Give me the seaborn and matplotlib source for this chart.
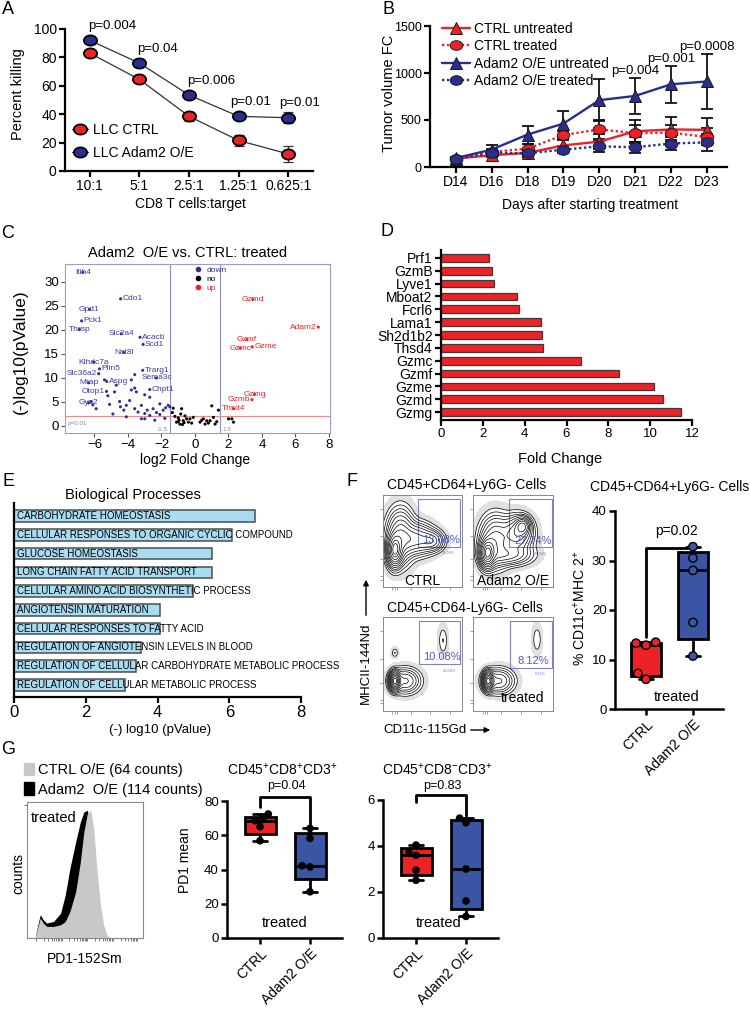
import numpy as np
import pandas as pd
import matplotlib
matplotlib.use('Agg')
import matplotlib.pyplot as plt
import seaborn as sns
from matplotlib.path import Path
from matplotlib.transforms import Affine2D
from matplotlib.patches import Rectangle, Patch, FancyArrowPatch

# ---------------- data ----------------
# A: killing assay
ratios = ['10:1', '5:1', '2.5:1', '1.25:1', '0.625:1']
kill_ctrl = [83, 64.5, 38.5, 21.5, 12]
kill_ctrl_err = [1.5, 1.5, 3, 4, 5.5]
kill_adam2 = [92, 76, 53.5, 38.5, 37.5]
kill_adam2_err = [1.5, 3, 1.5, 1.5, 4]
kill_p = ['p=0.004', 'p=0.04', 'p=0.006', 'p=0.01', 'p=0.01']

# B: tumour growth
days = ['D14', 'D16', 'D18', 'D19', 'D20', 'D21', 'D22', 'D23']
ctrl_untr = [90, 125, 150, 230, 270, 380, 400, 395]
ctrl_untr_err = [8, 20, 35, 55, 80, 120, 135, 125]
ctrl_tr = [88, 160, 195, 340, 400, 360, 365, 320]
ctrl_tr_err = [8, 35, 50, 45, 105, 90, 80, 90]
adam_untr = [95, 185, 345, 462, 711, 756, 880, 910]
adam_untr_err = [10, 46, 95, 135, 225, 195, 195, 290]
adam_tr = [85, 150, 145, 185, 220, 210, 250, 262]
adam_tr_err = [8, 30, 35, 40, 60, 60, 70, 90]
growth_p = {'D21': 'p=0.004', 'D22': 'p=0.001', 'D23': 'p=0.0008'}

# C: volcano
down_genes = ['Itih4', 'Cdo1', 'Gpd1', 'Pck1', 'Thrsp', 'Slc2a4', 'Acacb', 'Scd1', 'Nat8l', 'Klhdc7a',
              'Plin5', 'Trarg1', 'Slc36a2', 'Mrap', 'Aspg', 'Sema3c', 'Otop1', 'Chpt1', 'Gys2']
down_genes_lfc = [-6.7, -4.44, -6.3, -6.77, -6.9, -4.4, -3.28, -3.1, -4.25, -6.05,
                  -5.7, -3.12, -5.75, -6.35, -5.27, -2.3, -5.28, -2.7, -6.35]
down_genes_logp = [32.0, 26.5, 24.3, 21.9, 20.1, 19.2, 18.5, 17.0, 15.3, 13.3,
                   11.9, 11.6, 10.9, 9.0, 9.3, 10.0, 7.2, 7.6, 4.8]
up_genes = ['Gzmd', 'Adam2', 'Gzmf', 'Gzmc', 'Gzme', 'Gzmg', 'Gzmb', 'Thsd4']
up_genes_lfc = [3.45, 7.36, 3.1, 2.7, 3.42, 3.55, 3.4, 2.3]
up_genes_logp = [26.4, 20.6, 18.0, 16.2, 16.5, 6.6, 5.5, 3.6]
down_lfc = [-6.1, -5.9, -6.2, -5.4, -4.8, -4.7, -5.1, -4.5, -4.45, -4.25,
            -4.1, -3.9, -3.8, -3.6, -3.5, -3.6, -3.4, -3.2, -3.0, -2.85,
            -2.7, -2.5, -2.3, -2.1, -1.9, -1.75, -1.6, -1.5, -2.1, -2.7,
            -3.0, -3.8, -3.6, -3.2, -3.0, -4.1, -5.2, -4.9, -2.4, -1.8]
down_logp = [4.4, 3.6, 5.1, 9.6, 7.1, 8.5, 4.5, 5.1, 4.0, 3.3,
             4.3, 5.3, 7.5, 7.9, 7.1, 3.6, 2.9, 4.3, 2.6, 3.3,
             2.2, 3.6, 2.8, 2.4, 3.3, 3.8, 4.3, 4.0, 4.6, 6.0,
             6.5, 9.6, 10.7, 1.5, 1.5, 1.9, 6.3, 2.5, 1.2, 1.6]
no_lfc = [-1.3, -1.2, -1.0, -0.85, -0.7, -0.6, -0.4, -0.2, -0.8,
          0.3, 0.5, 0.7, 0.9, 1.0, 1.1, 1.2, 1.4, 2.0, 2.3, 2.2,
          -0.3, -0.1, 0.6, -1.1, -0.9, -0.5, -1.35, -1.0, -0.75, 0.4, 0.8, -0.95, -0.65, 1.3]
no_logp = [3.7, 2.0, 1.7, 2.5, 1.1, 2.1, 0.8, 0.6, 3.6,
           0.8, 1.5, 1.1, 1.1, 4.2, 1.8, 0.4, 3.3, 1.5, 0.8, 1.5,
           1.5, 1.8, 0.4, 0.8, 0.4, 1.5, 2.8, 0.9, 0.3, 1.2, 0.6, 1.2, 0.7, 0.9]

# D: fold change
fc_genes = ['Prf1', 'GzmB', 'Lyve1', 'Mboat2', 'Fcrl6', 'Lama1', 'Sh2d1b2', 'Thsd4',
            'Gzmc', 'Gzmf', 'Gzme', 'Gzmd', 'Gzmg']
fold_change = [2.31, 2.42, 2.55, 3.62, 3.75, 4.77, 4.82, 4.90, 6.70, 8.53, 10.16, 10.61, 11.48]

# E: GO biological processes
go_terms = ['CARBOHYDRATE HOMEOSTASIS',
            'CELLULAR RESPONSES TO ORGANIC CYCLIC COMPOUND',
            'GLUCOSE HOMEOSTASIS',
            'LONG CHAIN FATTY ACID TRANSPORT',
            'CELLULAR AMINO ACID BIOSYNTHETIC PROCESS',
            'ANGIOTENSIN MATURATION',
            'CELLULAR RESPONSES TO FATTY ACID',
            'REGULATION OF ANGIOTENSIN LEVELS IN BLOOD',
            'REGULATION OF CELLULAR CARBOHYDRATE METABOLIC PROCESS',
            'REGULATION OF CELLULAR METABOLIC PROCESS']
go_logp = [6.72, 6.07, 5.53, 5.53, 5.0, 4.07, 4.07, 3.53, 3.41, 3.09]

# F: flow populations (centre x, centre y, spread x, spread y, weight) in gate coordinates
flow_ctrl_64pos = [(0.15, 0.40, 0.05, 0.09, 1.0), (0.22, 0.55, 0.09, 0.15, 1.2),
                   (0.42, 0.52, 0.12, 0.09, 0.8), (0.62, 0.50, 0.08, 0.06, 0.25)]
flow_adam2_64pos = [(0.18, 0.37, 0.05, 0.08, 1.0), (0.28, 0.50, 0.10, 0.14, 1.3),
                    (0.55, 0.58, 0.10, 0.10, 1.0), (0.62, 0.66, 0.05, 0.05, 0.35),
                    (0.45, 0.35, 0.15, 0.06, 0.5)]
flow_ctrl_64neg = [(0.15, 0.32, 0.035, 0.05, 1.0), (0.28, 0.32, 0.10, 0.07, 0.8),
                   (0.15, 0.62, 0.025, 0.03, 0.012), (0.76, 0.75, 0.035, 0.09, 0.05)]
flow_adam2_64neg = [(0.19, 0.32, 0.035, 0.05, 1.0), (0.32, 0.32, 0.10, 0.07, 0.8),
                    (0.80, 0.76, 0.035, 0.09, 0.045)]
flow_pct = ['13.08%', '27.74%', '10.08%', '8.12%']
cd11c_ctrl = [6.0, 7.2, 12.9, 13.3, 13.5]
cd11c_adam2 = [10.7, 17.5, 28.0, 30.5, 32.8]

# G: PD1 histograms and box plots
pd1_channel = [7, 9, 11.5, 14, 17, 23, 29, 33, 37, 42, 46, 49, 52, 55, 57.5, 60, 63, 66, 69, 72]
pd1_counts_ctrl = [0, 30, 60, 45, 35, 35, 40, 50, 80, 140, 230, 320, 375, 385, 330, 220, 110, 40, 8, 0]
pd1_counts_adam2 = [0, 35, 70, 55, 45, 50, 75, 130, 210, 290, 350, 380, 385, 340, 250, 150, 70, 20, 3, 0]
pd1_cd8pos_ctrl = [56.8, 65, 68.5, 69.2, 72.4]
pd1_cd8pos_adam2 = [27, 41.5, 42.2, 58.2, 64]
pd1_cd8neg_ctrl = [2.51, 2.95, 3.6, 3.75, 4.04]
pd1_cd8neg_adam2 = [0.94, 1.61, 3.0, 5.01, 5.21]
groups = ['CTRL', 'Adam2 O/E']

# ---------------- style ----------------
sns.set_style('ticks')
plt.rcParams['font.family'] = ['Liberation Sans', 'DejaVu Sans']
plt.rcParams.update({'mathtext.fontset': 'custom', 'mathtext.rm': 'Liberation Sans',
                     'mathtext.default': 'regular', 'text.color': 'black',
                     'axes.edgecolor': 'black', 'xtick.color': 'black', 'ytick.color': 'black',
                     'axes.labelcolor': 'black'})

RED = '#ec2227'
NAVY = '#2a2f8f'
BOXBLUE = '#3a55a4'
LIGHTBLUE = '#a8dcf2'
GATE = '#7d82c8'
OVAL = Path.unit_circle().transformed(Affine2D().scale(1.3, 1.0))

W, H = 750, 1009
fig = plt.figure(figsize=(7.5, 10.09), dpi=100)


def box(l, t, r, b):
    return fig.add_axes([l / W, 1 - b / H, (r - l) / W, (b - t) / H])


def txt(x, y, s, size=10, **kw):
    kw.setdefault('ha', 'center')
    kw.setdefault('va', 'center')
    fig.text(x / W, 1 - y / H, s, fontsize=size, **kw)


def prism(ax, lw=1.6, size=10):
    sns.despine(ax=ax)
    for s in ['left', 'bottom']:
        ax.spines[s].set_linewidth(lw)
    ax.tick_params(width=lw, length=4, labelsize=size, pad=2)


def prism_box(ax, data, box_colors, pt_colors, pt_size):
    stats = []
    for v in data:
        q1, med, q3 = np.percentile(v, [25, 50, 75], method='weibull')
        stats.append({'med': med, 'q1': q1, 'q3': q3, 'whislo': min(v), 'whishi': max(v), 'fliers': []})
    df = pd.DataFrame({'grp': np.repeat(groups, [len(v) for v in data]), 'val': np.concatenate(data)})
    sns.swarmplot(data=df, x='grp', y='val', hue='grp', palette=dict(zip(groups, pt_colors)),
                  size=pt_size, edgecolor='black', linewidth=1, legend=False, ax=ax, zorder=5)
    bp = ax.bxp(stats, positions=[0, 1], widths=0.62, patch_artist=True, showfliers=False,
                capwidths=0.28, manage_ticks=False,
                boxprops=dict(lw=2, edgecolor='black'), whiskerprops=dict(lw=2, color='black'),
                capprops=dict(lw=2, color='black'), medianprops=dict(lw=2, color='black'))
    for patch, c in zip(bp['boxes'], box_colors):
        patch.set_facecolor(c)
    prism(ax, lw=1.8, size=9.5)
    ax.set_xlim(-0.66, 1.64)
    ax.set_xticks([0, 1])
    ax.set_xticklabels(groups, rotation=45, ha='right', rotation_mode='anchor', fontsize=10)
    ax.set_xlabel('')
    ax.set_ylabel('')


def bracket(ax, y_top, y_left, y_right):
    ax.plot([0, 0, 1, 1], [y_left, y_top, y_top, y_right], color='black', lw=2, clip_on=False)


# ---------------- A ----------------
ax = box(65, 29, 313, 171)
pos = np.arange(len(ratios))
for vals, errs, col, name in [(kill_ctrl, kill_ctrl_err, RED, 'LLC CTRL'),
                              (kill_adam2, kill_adam2_err, NAVY, 'LLC Adam2 O/E')]:
    ax.errorbar(pos, vals, yerr=errs, fmt='none', ecolor='#333333', elinewidth=0.9,
                capsize=3.5, capthick=0.9, zorder=1)
    sns.lineplot(x=pos, y=vals, ax=ax, color='#333333', lw=0.9, marker=OVAL, markersize=9.5,
                 markerfacecolor=col, markeredgecolor='black', markeredgewidth=1.3,
                 label=name, errorbar=None)
for i, s in enumerate(kill_p):
    ax.text(i - (0.04 if i < 3 else 0.18), kill_adam2[i] + 6, s, fontsize=9.5, ha='left', va='bottom')
ax.set_xlim(-0.5, 4.5)
ax.set_ylim(0, 100)
ax.set_xticks(pos)
ax.set_xticklabels(ratios)
ax.set_yticks(range(0, 101, 20))
prism(ax)
ax.legend(loc='lower left', bbox_to_anchor=(0.03, 0.08), frameon=False, fontsize=10,
          handlelength=1.1, handletextpad=0.35, labelspacing=0.6, borderpad=0, borderaxespad=0)
txt(18, 94, 'Percent killing', 10.5, rotation=90)
txt(190, 204, 'CD8 T cells:target', 10)

# ---------------- B ----------------
ax = box(430, 26, 727, 167)
series_b = {'CTRL untreated': (ctrl_untr, ctrl_untr_err),
            'CTRL treated': (ctrl_tr, ctrl_tr_err),
            'Adam2 O/E untreated': (adam_untr, adam_untr_err),
            'Adam2 O/E treated': (adam_tr, adam_tr_err)}
rows = []
for name, (v, e) in series_b.items():
    for i in range(len(days)):
        rows.append((name, i, v[i], e[i]))
df_b = pd.DataFrame(rows, columns=['series', 'day', 'vol', 'err'])
pal_b = {'CTRL untreated': RED, 'CTRL treated': RED, 'Adam2 O/E untreated': NAVY, 'Adam2 O/E treated': NAVY}
mk_b = {'CTRL untreated': '^', 'CTRL treated': OVAL, 'Adam2 O/E untreated': '^', 'Adam2 O/E treated': OVAL}
ds_b = {'CTRL untreated': '', 'CTRL treated': (1, 1.1), 'Adam2 O/E untreated': '', 'Adam2 O/E treated': (1, 1.1)}
for name, (v, e) in series_b.items():
    ax.errorbar(range(len(days)), v, yerr=e, fmt='none', ecolor='#111111', elinewidth=1.3,
                capsize=4, capthick=1.3, zorder=1)
sns.lineplot(data=df_b, x='day', y='vol', hue='series', style='series', palette=pal_b,
             markers=mk_b, dashes=ds_b, markersize=9, linewidth=1.7, markeredgecolor='#1a1a1a',
             markeredgewidth=0.7, errorbar=None, ax=ax)
for d, s in growth_p.items():
    i = days.index(d)
    ax.text(i, adam_untr[i] + adam_untr_err[i] + 75, s, fontsize=9.5, ha='center', va='center')
ax.set_xlim(-0.72, 7.56)
ax.set_ylim(0, 1500)
ax.set_xticks(range(len(days)))
ax.set_xticklabels(days)
ax.set_yticks([0, 500, 1000, 1500])
ax.set_xlabel('')
ax.set_ylabel('')
prism(ax)
ax.tick_params(axis='y', labelsize=9)
h, l = ax.get_legend_handles_labels()
keep = [(hh, ll) for hh, ll in zip(h, l) if ll in series_b]
ax.legend([k[0] for k in keep], [k[1] for k in keep], loc='upper left', bbox_to_anchor=(0.04, 1.03),
          frameon=False, fontsize=10, handlelength=2.0, handletextpad=0.3, labelspacing=0.25,
          borderpad=0, borderaxespad=0)
txt(389, 93, 'Tumor volume FC', 10.5, rotation=90)
txt(590, 205, 'Days after starting treatment', 10)

# ---------------- C ----------------
ax = box(65, 264, 330, 433)
df_c = pd.DataFrame({
    'lfc': down_lfc + down_genes_lfc + no_lfc + up_genes_lfc,
    'logp': down_logp + down_genes_logp + no_logp + up_genes_logp,
    'reg': ['down'] * (len(down_lfc) + len(down_genes_lfc)) + ['no'] * len(no_lfc) + ['up'] * len(up_genes_lfc)})
pal_c = {'down': '#2e3192', 'no': 'black', 'up': RED}
sns.scatterplot(data=df_c, x='lfc', y='logp', hue='reg', hue_order=['down', 'no', 'up'],
                palette=pal_c, s=5, linewidth=0, ax=ax)
ax.axvline(-1.5, color='#8c8fd0', lw=0.8, zorder=0)
ax.axvline(1.5, color='#8c8fd0', lw=0.8, zorder=0)
ax.axhline(2, color='#f08a8a', lw=0.8, zorder=0)
align = {'Cdo1': 'r', 'Pck1': 'r', 'Acacb': 'r', 'Scd1': 'r', 'Plin5': 'r', 'Trarg1': 'r', 'Aspg': 'r',
         'Chpt1': 'r', 'Gzme': 'r', 'Otop1': 'l', 'Slc36a2': 'l', 'Adam2': 'l', 'Gzmb': 'l'}
for names, xs, ys, col in [(down_genes, down_genes_lfc, down_genes_logp, '#3b3ba8'),
                           (up_genes, up_genes_lfc, up_genes_logp, RED)]:
    for g, x, y in zip(names, xs, ys):
        a = align.get(g, 'c')
        if a == 'r':
            ax.text(x + 0.12, y, g, color=col, fontsize=6, ha='left', va='center')
        elif a == 'l':
            ax.text(x - 0.12, y, g, color=col, fontsize=6, ha='right', va='center')
        else:
            ax.text(x, y, g, color=col, fontsize=6, ha='center', va='center')
ax.text(-1.65, -0.75, '-1.5', fontsize=4.5, color='#888888', ha='right', va='center')
ax.text(1.65, -0.75, '1.5', fontsize=4.5, color='#888888', ha='left', va='center')
ax.text(-7.6, 0.6, 'p=0.01', fontsize=4.5, color='#888888', ha='left', va='center')
ax.set_xlim(-7.76, 8.06)
ax.set_ylim(-1.46, 33.75)
ax.set_xticks(range(-6, 9, 2))
ax.set_yticks(range(0, 31, 5))
ax.set_xlabel('')
ax.set_ylabel('')
for s in ax.spines.values():
    s.set_color('#9c9ccf')
    s.set_linewidth(0.8)
ax.tick_params(length=3, width=0.8, color='#555555', labelsize=9.5, pad=1.5)
leg = ax.legend(loc='upper left', bbox_to_anchor=(0.47, 0.99), frameon=False, fontsize=6,
                markerscale=1.8, handletextpad=0.0, labelspacing=0.15, borderpad=0, borderaxespad=0)
for t, c in zip(leg.get_texts(), ['#2e3192', 'black', RED]):
    t.set_color(c)
txt(188, 253, 'Adam2  O/E vs. CTRL: treated', 10.5)
txt(20, 352, '(-)log10(pValue)', 12.5, rotation=90)
txt(195, 460, 'log2 Fold Change', 10)

# ---------------- D ----------------
ax = box(441, 250, 692, 420)
sns.barplot(x=fold_change, y=fc_genes, orient='h', color=RED, saturation=1, edgecolor='#3a3a3a',
            linewidth=0.9, width=0.6, ax=ax)
ax.set_xlim(0, 12)
ax.set_ylim(12.62, -0.62)
ax.set_xticks(range(0, 13, 2))
prism(ax, size=9.5)
ax.tick_params(axis='y', labelsize=10)
txt(560, 459, 'Fold Change', 10.5)

# ---------------- E ----------------
ax = box(14, 503, 301, 697)
sns.barplot(x=go_logp, y=go_terms, orient='h', color=LIGHTBLUE, saturation=1, edgecolor='#4d4d4d',
            linewidth=1.1, width=0.62, ax=ax)
ax.set_xlim(0, 8)
ax.set_ylim(9.65, -0.7)
ax.set_xticks(range(0, 9, 2))
prism(ax, size=12)
ax.tick_params(axis='y', length=0)
ax.set_yticklabels([])
for i, t in enumerate(go_terms):
    ax.text(0.09, i, t, fontsize=7, ha='left', va='center')
txt(133, 495, 'Biological Processes', 10.5)
txt(160, 730, '(-) log10 (pValue)', 9.5)

# ---------------- F flow ----------------
gx, gy = np.meshgrid(np.linspace(0, 1, 220), np.linspace(0, 1, 220))


def flow_density(blobs):
    z = np.zeros_like(gx)
    for cx, cy, sx, sy, w in blobs:
        z += w / (sx * sy) * np.exp(-((gx - cx) ** 2 / (2 * sx ** 2) + (gy - cy) ** 2 / (2 * sy ** 2)))
    return z / z.max()


flow_panels = [((383, 495, 462, 587), flow_ctrl_64pos, (0.44, 0.44, 0.98, 0.96), 'CTRL'),
               ((473, 495, 553, 587), flow_adam2_64pos, (0.45, 0.43, 0.99, 0.96), 'Adam2 O/E'),
               ((383, 617, 462, 711), flow_ctrl_64neg, (0.46, 0.50, 0.98, 0.96), ''),
               ((473, 617, 553, 711), flow_adam2_64neg, (0.46, 0.46, 0.99, 0.96), 'treated')]
levels = [0.012, 0.025, 0.045, 0.07, 0.11, 0.17, 0.25, 0.35, 0.5, 0.68, 0.85]
for (rect, blobs, gate, lab), pct in zip(flow_panels, flow_pct):
    ax = box(*rect)
    z = flow_density(blobs)
    ax.contourf(gx, gy, z, levels=[0.0025, 0.012], colors=['#e0e0e0'])
    ax.contour(gx, gy, z, levels=levels, colors='black', linewidths=0.5)
    x0, y0, x1, y1 = gate
    ax.add_patch(Rectangle((x0, y0), x1 - x0, y1 - y0, fill=False, edgecolor=GATE, lw=0.8))
    ax.text(x0 + 0.55 * (x1 - x0), y0 + 0.07, pct, color='#4d5cc0', fontsize=8, ha='center', va='center')
    ax.text(x0 + 0.72 * (x1 - x0), y0 - 0.07, pct, color='#6f7bd0', fontsize=2.8, ha='center', va='center')
    if lab == 'treated':
        ax.text(0.62, 0.14, lab, fontsize=10, ha='center', va='center')
    elif lab:
        ax.text(0.5, 0.07, lab, fontsize=10, ha='center', va='center')
    ax.set_xlim(0, 1)
    ax.set_ylim(0, 1)
    ax.set_xticks([0.12, 0.15, 0.18, 0.35, 0.6, 0.85])
    ax.set_yticks([0.08, 0.12, 0.3, 0.55, 0.85])
    ax.set_xticklabels([])
    ax.set_yticklabels([])
    ax.tick_params(length=2, width=0.5, color='#777777')
    for s in ax.spines.values():
        s.set_color('#888888')
        s.set_linewidth(0.7)
txt(467, 485, 'CD45+CD64+Ly6G- Cells', 10)
txt(465, 608, 'CD45+CD64-Ly6G- Cells', 10)
txt(366, 663, 'MHCII-144Nd', 9.5, rotation=90)
fig.add_artist(FancyArrowPatch((366 / W, 1 - 618 / H), (366 / W, 1 - 577 / H), transform=fig.transFigure,
                               arrowstyle='-|>', mutation_scale=8, lw=1, color='black'))
txt(425, 730, 'CD11c-115Gd', 9.5)
fig.add_artist(FancyArrowPatch((468 / W, 1 - 730 / H), (493 / W, 1 - 730 / H), transform=fig.transFigure,
                               arrowstyle='-|>', mutation_scale=8, lw=1, color='black'))

# ---------------- F box ----------------
ax = box(615, 511, 723, 709)
prism_box(ax, [cd11c_ctrl, cd11c_adam2], [RED, BOXBLUE], [RED, BOXBLUE], 6)
ax.set_ylim(0, 40)
ax.set_yticks(range(0, 41, 10))
bracket(ax, 32.6, 14.5, 32.8)
ax.text(0.65, 34.5, 'p=0.02', fontsize=10, ha='center', va='bottom')
ax.text(0.65, 2.5, 'treated', fontsize=10.5, ha='center', va='center')
txt(670, 487, 'CD45+CD64+Ly6G- Cells', 10)
txt(580, 608, '% CD11c$^{+}$MHC 2$^{+}$', 10, rotation=90)

# ---------------- G histogram ----------------
ax = box(27, 802, 143, 938)
ax.fill_between(pd1_channel, pd1_counts_adam2, color='black', lw=0)
ax.fill_between(pd1_channel, pd1_counts_ctrl, color='#c8c8c8', lw=0)
ax.set_xlim(0, 100)
ax.set_ylim(0, 410)
minor = [d + 22 * np.log10(k) for d in [8, 30, 52, 74] for k in range(1, 10)]
ax.set_xticks([m for m in minor if m < 98])
ax.set_xticklabels([])
ax.set_yticks([400])
ax.set_yticklabels([])
ax.tick_params(length=2.5, width=0.6, color='#666666')
for s in ax.spines.values():
    s.set_color('#888888')
    s.set_linewidth(0.8)
ax.text(0.03, 0.88, 'treated', transform=ax.transAxes, fontsize=10.5, ha='left', va='center')
ax.legend([Patch(color='#c8c8c8'), Patch(color='black')], ['CTRL O/E (64 counts)', 'Adam2  O/E (114 counts)'],
          loc='lower left', bbox_to_anchor=(-0.03, 1.04), frameon=False, fontsize=10.5, handlelength=0.7,
          handleheight=0.9, handletextpad=0.3, labelspacing=0.35, borderpad=0, borderaxespad=0)
txt(18, 873, 'counts', 10, rotation=90)
txt(85, 959, 'PD1-152Sm', 10)

# ---------------- G box plots ----------------
ax = box(227, 801, 342, 938)
prism_box(ax, [pd1_cd8pos_ctrl, pd1_cd8pos_adam2], [RED, BOXBLUE], ['black', 'black'], 4.5)
ax.set_ylim(0, 80)
ax.set_yticks(range(0, 81, 20))
bracket(ax, 82.6, 76.5, 66.5)
ax.text(0.5, 9, 'treated', fontsize=10.5, ha='center', va='center')
txt(282, 770, 'CD45$^{+}$CD8$^{+}$CD3$^{+}$', 10)
txt(286, 786, 'p=0.04', 9)
txt(185, 860, 'PD1 mean', 10, rotation=90)

ax = box(383, 800, 498, 938)
prism_box(ax, [pd1_cd8neg_ctrl, pd1_cd8neg_adam2], [RED, BOXBLUE], ['black', 'black'], 4.5)
ax.set_ylim(0, 6)
ax.set_yticks(range(0, 7, 2))
bracket(ax, 6.2, 5.9, 5.3)
ax.text(0.45, 0.65, 'treated', fontsize=10.5, ha='center', va='center')
txt(437, 770, 'CD45$^{+}$CD8$^{-}$CD3$^{+}$', 10)
txt(442, 786, 'p=0.83', 9)

# ---------------- panel letters ----------------
for lab, x, y in [('A', 8, 10), ('B', 388, 10), ('C', 8, 233), ('D', 387, 231),
                  ('E', 8, 482), ('F', 352, 482), ('G', 8, 750)]:
    txt(x, y, lab, 13)

fig.savefig('out.png', dpi=100, facecolor='white')
